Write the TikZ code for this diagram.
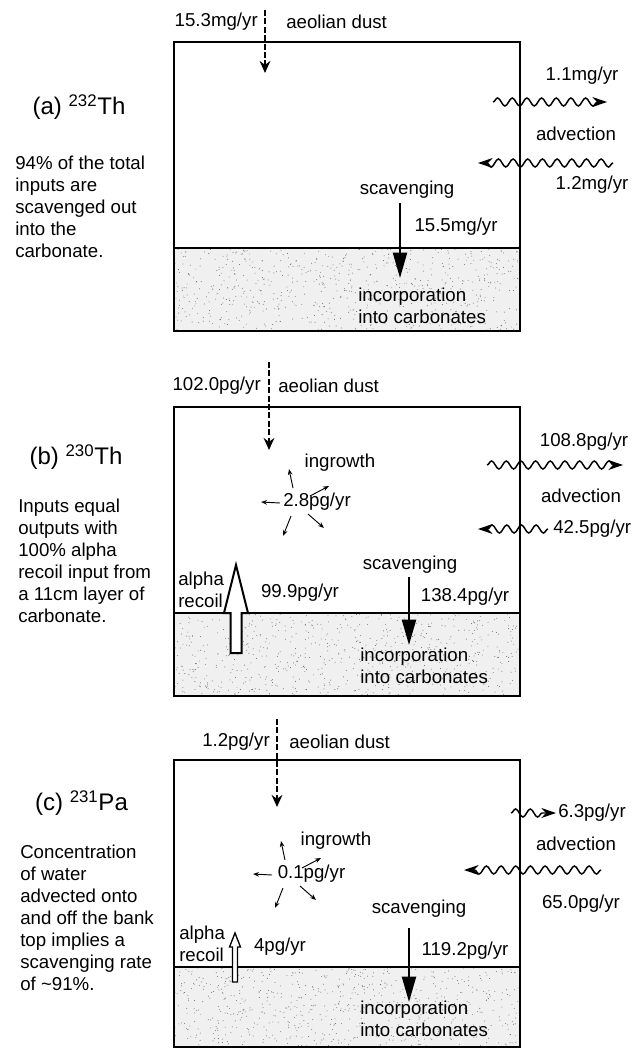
\documentclass[tikz,border=0pt]{standalone}
\usepackage{fontspec}
\setmainfont{Liberation Sans}
\usetikzlibrary{
  arrows.meta,
  decorations.pathmorphing
}
\tikzset{
  box line/.style={
    line width=2.2pt
  },
  sediment/.style={
    fill=black!6
  },
  stipple dot/.style={
    fill=black!60
  },
  dust flux/.style={
    line width=1.7pt,
    dash pattern=on 4.5pt off 1.8pt,
    -{Stealth[length=9pt,width=8pt]}
  },
  advection flux/.style={
    line width=1.1pt,
    decorate,
    decoration={snake, amplitude=3pt, segment length=11pt, post length=5pt},
    -{Stealth[length=11pt,width=7.5pt]}
  },
  scavenging flux/.style={
    line width=1.6pt,
    -{Triangle[length=19pt,width=10.5pt]}
  },
  ingrowth ray/.style={
    line width=0.7pt,
    -{Stealth[length=4.5pt,width=3.5pt]}
  },
  recoil arrow/.style={
    draw=black,
    fill=white,
    line width=1.5pt,
    line join=miter
  },
  flux text/.style={
    font=\fontsize{14}{16.5}\selectfont,
    inner sep=0pt
  },
  panel title/.style={
    font=\fontsize{18}{22}\selectfont,
    inner sep=0pt
  },
  panel note/.style={
    flux text,
    align=left,
    anchor=west
  }
}

\begin{document}
\begin{tikzpicture}[x=0.75pt,y=-0.75pt]
    \useasboundingbox (0,0) rectangle (632,1049);

    % ---------- (a) 232Th ----------
    \begin{scope}[shift={(0,42)}]
      \node[panel title] (a-title) at (79,65) {(a) \textsuperscript{232}Th};
      \node[panel note] (a-note) at (15,164.5)
        {94\% of the total\\inputs are\\scavenged out\\into the\\carbonate.};

      % 炭酸塩層
      \fill[sediment] (174,206) rectangle (520,289);
      \pgfmathsetseed{11}
      \foreach \i in {1,...,700}
        \fill[stipple dot] ({174+346*rnd},{206+83*rnd}) circle (0.35pt);

      % 箱
      \draw[box line] (174,0) rectangle (520,289);
      \draw[box line] (174,206) -- (520,206);

      % 風成塵
      \coordinate (a-dust-in) at (265,-32);
      \coordinate (a-dust-end) at (265,31);
      \draw[dust flux] (a-dust-in) -- (a-dust-end);
      \node[flux text, anchor=east] (a-dust-rate) at (258,-20) {15.3mg/yr};
      \node[flux text, anchor=west] (a-dust-name) at (286,-20) {aeolian dust};

      % 移流
      \coordinate (a-adv-out-start) at (493,60);
      \coordinate (a-adv-out-end) at (607,60);
      \draw[advection flux] (a-adv-out-start) -- (a-adv-out-end);
      \node[flux text] (a-adv-out-rate) at (582,34) {1.1mg/yr};
      \node[flux text] (a-adv-name) at (576,92) {advection};
      \coordinate (a-adv-in-start) at (613,121);
      \coordinate (a-adv-in-end) at (478,121);
      \draw[advection flux] (a-adv-in-start) -- (a-adv-in-end);
      \node[flux text] (a-adv-in-rate) at (592,143) {1.2mg/yr};

      % 除去
      \node[flux text] (a-scav-name) at (407,148) {scavenging};
      \coordinate (a-scav-start) at (400,161);
      \coordinate (a-scav-end) at (400,236);
      \draw[scavenging flux] (a-scav-start) -- (a-scav-end);
      \node[flux text] (a-scav-rate) at (456,185) {15.5mg/yr};
      \node[flux text, align=left, anchor=west] (a-sink) at (358,264)
        {incorporation\\into carbonates};
    \end{scope}

    % ---------- (b) 230Th ----------
    \begin{scope}[shift={(0,407)}]
      \node[panel title] (b-title) at (76,50) {(b) \textsuperscript{230}Th};
      \node[panel note] (b-note) at (18,153.5)
        {Inputs equal\\outputs with\\100\% alpha\\recoil input from\\a 11cm layer of\\carbonate.};

      % 炭酸塩層
      \fill[sediment] (174,206) rectangle (520,289);
      \pgfmathsetseed{23}
      \foreach \i in {1,...,700}
        \fill[stipple dot] ({174+346*rnd},{206+83*rnd}) circle (0.35pt);

      % 箱
      \draw[box line] (174,0) rectangle (520,289);
      \draw[box line] (174,206) -- (520,206);

      % 風成塵
      \coordinate (b-dust-in) at (269,-45);
      \coordinate (b-dust-end) at (269,43);
      \draw[dust flux] (b-dust-in) -- (b-dust-end);
      \node[flux text, anchor=east] (b-dust-rate) at (261,-21) {102.0pg/yr};
      \node[flux text, anchor=west] (b-dust-name) at (278,-21) {aeolian dust};

      % 生成
      \coordinate (b-ingrowth) at (296,96);
      \foreach \sx/\sy/\ex/\ey in {-3/-15/-7/-34, 14/-7/33/-17, -16/0/-35/-1,
                                   -5/13/-13/33, 12/11/28/25}
        \draw[ingrowth ray] ([shift={(\sx,\sy)}]b-ingrowth)
          -- ([shift={(\ex,\ey)}]b-ingrowth);
      \node[flux text] (b-ingrowth-name) at (340,56) {ingrowth};
      \node[flux text] (b-ingrowth-rate) at (317,95) {2.8pg/yr};

      % 移流
      \coordinate (b-adv-out-start) at (487,58);
      \coordinate (b-adv-out-end) at (623,58);
      \draw[advection flux] (b-adv-out-start) -- (b-adv-out-end);
      \node[flux text] (b-adv-out-rate) at (584,35) {108.8pg/yr};
      \node[flux text] (b-adv-name) at (581,89) {advection};
      \coordinate (b-adv-in-start) at (548,122);
      \coordinate (b-adv-in-end) at (478,122);
      \draw[advection flux] (b-adv-in-start) -- (b-adv-in-end);
      \node[flux text, anchor=west] (b-adv-in-rate) at (553,122) {42.5pg/yr};

      % アルファ反跳
      \node[flux text, align=left, anchor=west] (b-recoil-name) at (178,183)
        {alpha\\recoil};
      \coordinate (b-recoil) at (236,158);
      \draw[recoil arrow] (b-recoil) -- ++(12,48) -- ++(-6.5,0) -- ++(0,40)
        -- ++(-11,0) -- ++(0,-40) -- ++(-6.5,0) -- cycle;
      \node[flux text] (b-recoil-rate) at (300,186) {99.9pg/yr};

      % 除去
      \node[flux text] (b-scav-name) at (410,158) {scavenging};
      \coordinate (b-scav-start) at (409,170);
      \coordinate (b-scav-end) at (409,238);
      \draw[scavenging flux] (b-scav-start) -- (b-scav-end);
      \node[flux text] (b-scav-rate) at (465,190) {138.4pg/yr};
      \node[flux text, align=left, anchor=west] (b-sink) at (360,259)
        {incorporation\\into carbonates};
    \end{scope}

    % ---------- (c) 231Pa ----------
    \begin{scope}[shift={(0,760)}]
      \node[panel title] (c-title) at (81.5,43) {(c) \textsuperscript{231}Pa};
      \node[panel note] (c-note) at (20,157.5)
        {Concentration\\of water\\advected onto\\and off the bank\\top implies a\\scavenging rate\\of \textasciitilde91\%.};

      % 炭酸塩層
      \fill[sediment] (174,207) rectangle (520,287);
      \pgfmathsetseed{37}
      \foreach \i in {1,...,700}
        \fill[stipple dot] ({174+346*rnd},{207+80*rnd}) circle (0.35pt);

      % 箱
      \draw[box line] (174,0) rectangle (520,287);
      \draw[box line] (174,207) -- (520,207);

      % 風成塵
      \coordinate (c-dust-in) at (277,-41);
      \coordinate (c-dust-end) at (277,47);
      \draw[dust flux] (c-dust-in) -- (c-dust-end);
      \node[flux text, anchor=east] (c-dust-rate) at (270,-18) {1.2pg/yr};
      \node[flux text, anchor=west] (c-dust-name) at (289,-18) {aeolian dust};

      % 生成
      \coordinate (c-ingrowth) at (288,115);
      \foreach \sx/\sy/\ex/\ey in {-3/-15/-7/-34, 14/-7/33/-17, -16/0/-35/-1,
                                   -5/13/-13/33, 12/11/28/25}
        \draw[ingrowth ray] ([shift={(\sx,\sy)}]c-ingrowth)
          -- ([shift={(\ex,\ey)}]c-ingrowth);
      \node[flux text] (c-ingrowth-name) at (336,81) {ingrowth};
      \node[flux text] (c-ingrowth-rate) at (311.5,114) {0.1pg/yr};

      % 移流
      \coordinate (c-adv-out-start) at (511,53);
      \coordinate (c-adv-out-end) at (556,53);
      \draw[advection flux] (c-adv-out-start) -- (c-adv-out-end);
      \node[flux text, anchor=west] (c-adv-out-rate) at (558,53) {6.3pg/yr};
      \node[flux text] (c-adv-name) at (576,84) {advection};
      \coordinate (c-adv-in-start) at (601,110);
      \coordinate (c-adv-in-end) at (464,110);
      \draw[advection flux] (c-adv-in-start) -- (c-adv-in-end);
      \node[flux text] (c-adv-in-rate) at (581,144) {65.0pg/yr};

      % アルファ反跳
      \node[flux text, align=left, anchor=west] (c-recoil-name) at (179,184)
        {alpha\\recoil};
      \coordinate (c-recoil) at (235,173);
      \draw[recoil arrow, line width=1pt] (c-recoil) -- ++(5.5,14) -- ++(-3,0)
        -- ++(0,35) -- ++(-5,0) -- ++(0,-35) -- ++(-3,0) -- cycle;
      \node[flux text] (c-recoil-rate) at (280,187) {4pg/yr};

      % 除去
      \node[flux text] (c-scav-name) at (419,149) {scavenging};
      \coordinate (c-scav-start) at (409,168);
      \coordinate (c-scav-end) at (409,242);
      \draw[scavenging flux] (c-scav-start) -- (c-scav-end);
      \node[flux text] (c-scav-rate) at (465,191) {119.2pg/yr};
      \node[flux text, align=left, anchor=west] (c-sink) at (360,259)
        {incorporation\\into carbonates};
    \end{scope}

  \end{tikzpicture}
\end{document}
